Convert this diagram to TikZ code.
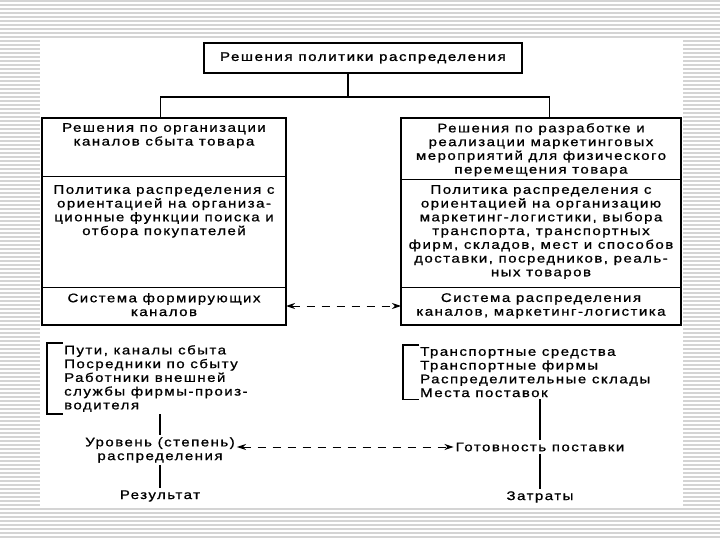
\documentclass[tikz,border=0pt]{standalone}
\usepackage{fontspec}
\setmainfont{Liberation Sans}
\newfontfamily\bodyfont[FakeStretch=1.2,LetterSpace=12,FakeBold=0.9]{Liberation Sans}
\newfontfamily\titlefont[FakeStretch=1.2,LetterSpace=13,FakeBold=1.4]{Liberation Sans}
\usetikzlibrary{arrows.meta}
\tikzset{
  stripe/.style={draw=black!17, line width=1.3pt},
  sec/.style={draw=black, line width=1pt, inner sep=0pt, anchor=north west},
  outer/.style={draw=black, line width=1.8pt},
  txt/.style={font=\bodyfont\fontsize{12.5}{13.75}\selectfont, align=center, inner sep=2pt},
  ltxt/.style={font=\bodyfont\fontsize{12.5}{13.75}\selectfont, align=left, inner sep=2pt},
  conn/.style={draw=black, line width=1.6pt},
  thin/.style={draw=black, line width=1.3pt},
  dasharrow/.style={draw=black, line width=1pt, dash pattern=on 8pt off 7pt, {Stealth[length=9pt,width=6pt]}-{Stealth[length=9pt,width=6pt]}},
}
\begin{document}
\begin{tikzpicture}[x=1pt,y=-1pt]
\useasboundingbox (0,0) rectangle (720,540);
% background
\foreach \yy in {1,5,...,540} \draw[stripe] (0,\yy) -- (720,\yy);
\fill[white] (40,40) rectangle (683,508);
% top
\node[draw=black, line width=1.8pt, minimum width=318pt, minimum height=30pt, anchor=north west,
      font=\titlefont\fontsize{12.5}{14}\selectfont] (top) at (203,42) {Решения политики распределения};
% left box sections
\node[sec, minimum width=243pt, minimum height=58pt] (l1) at (42,118) {};
\node[sec, minimum width=243pt, minimum height=111pt] (l2) at (42,176) {};
\node[sec, minimum width=243pt, minimum height=37pt] (l3) at (42,287) {};
\draw[outer] (l1.north west) rectangle (l3.south east);
\node[txt, anchor=north] (l1t) at ([yshift=-3pt]l1.north) {Решения по организации\\каналов сбыта товара};
\node[txt, anchor=north] (l2t) at ([yshift=-7pt]l2.north) {Политика распределения с\\ориентацией на организа-\\ционные функции поиска и\\отбора покупателей};
\node[txt, anchor=north] (l3t) at ([yshift=-4pt]l3.north) {Система формирующих\\каналов};
% right box sections
\node[sec, minimum width=279pt, minimum height=61pt] (r1) at (401,118) {};
\node[sec, minimum width=279pt, minimum height=108pt] (r2) at (401,179) {};
\node[sec, minimum width=279pt, minimum height=37pt] (r3) at (401,287) {};
\draw[outer] (r1.north west) rectangle (r3.south east);
\node[txt, anchor=north] (r1t) at ([yshift=-3pt]r1.north) {Решения по разработке и\\реализации маркетинговых\\мероприятий для физического\\перемещения товара};
\node[txt, anchor=north] (r2t) at ([yshift=-4pt]r2.north) {Политика распределения с\\ориентацией на организацию\\маркетинг-логистики, выбора\\транспорта, транспортных\\фирм, складов, мест и способов\\доставки, посредников, реаль-\\ных товаров};
\node[txt, anchor=north] (r3t) at ([yshift=-4pt]r3.north) {Система распределения\\каналов, маркетинг-логистика};
% top connectors
\draw[conn] ([xshift=-15pt]top.south) -- ++(0,23) -| ([xshift=-3.5pt]l1.north);
\draw[conn] ([xshift=-15pt]top.south) -- ++(0,23) -| ([xshift=8.5pt]r1.north);
% dashed arrow between boxes
\draw[dasharrow] (l3.east) -- (r3.west);
% lower left
\node[ltxt, anchor=north west] (list1) at (62,343) {Пути, каналы сбыта\\Посредники по сбыту\\Работники внешней\\службы фирмы-произ-\\водителя};
\draw[thin] ([xshift=1pt]list1.north west) -- ++(-16,0) |- ([xshift=1pt]list1.south west);
\node[txt] (lvl) at (160,450) {Уровень (степень)\\распределения};
\node[txt] (rez) at (160,496) {Результат};
\draw[thin] (lvl.north |- list1.south) -- (lvl.north);
\draw[thin] (lvl.south) -- (rez.north);
% lower right
\node[ltxt, anchor=north west] (list2) at (418,345) {Транспортные средства\\Транспортные фирмы\\Распределительные склады\\Места поставок};
\draw[thin] ([xshift=1pt]list2.north west) -- ++(-16,0) |- ([xshift=1pt]list2.south west);
\node[txt] (got) at (540,447) {Готовность поставки};
\node[txt] (zat) at (540,497) {Затраты};
\draw[thin] (got.north |- list2.south) -- (got.north);
\draw[thin] (got.south) -- (zat.north);
\draw[dasharrow] ([yshift=3pt]lvl.east) -- (got.west);
\end{tikzpicture}
\end{document}
